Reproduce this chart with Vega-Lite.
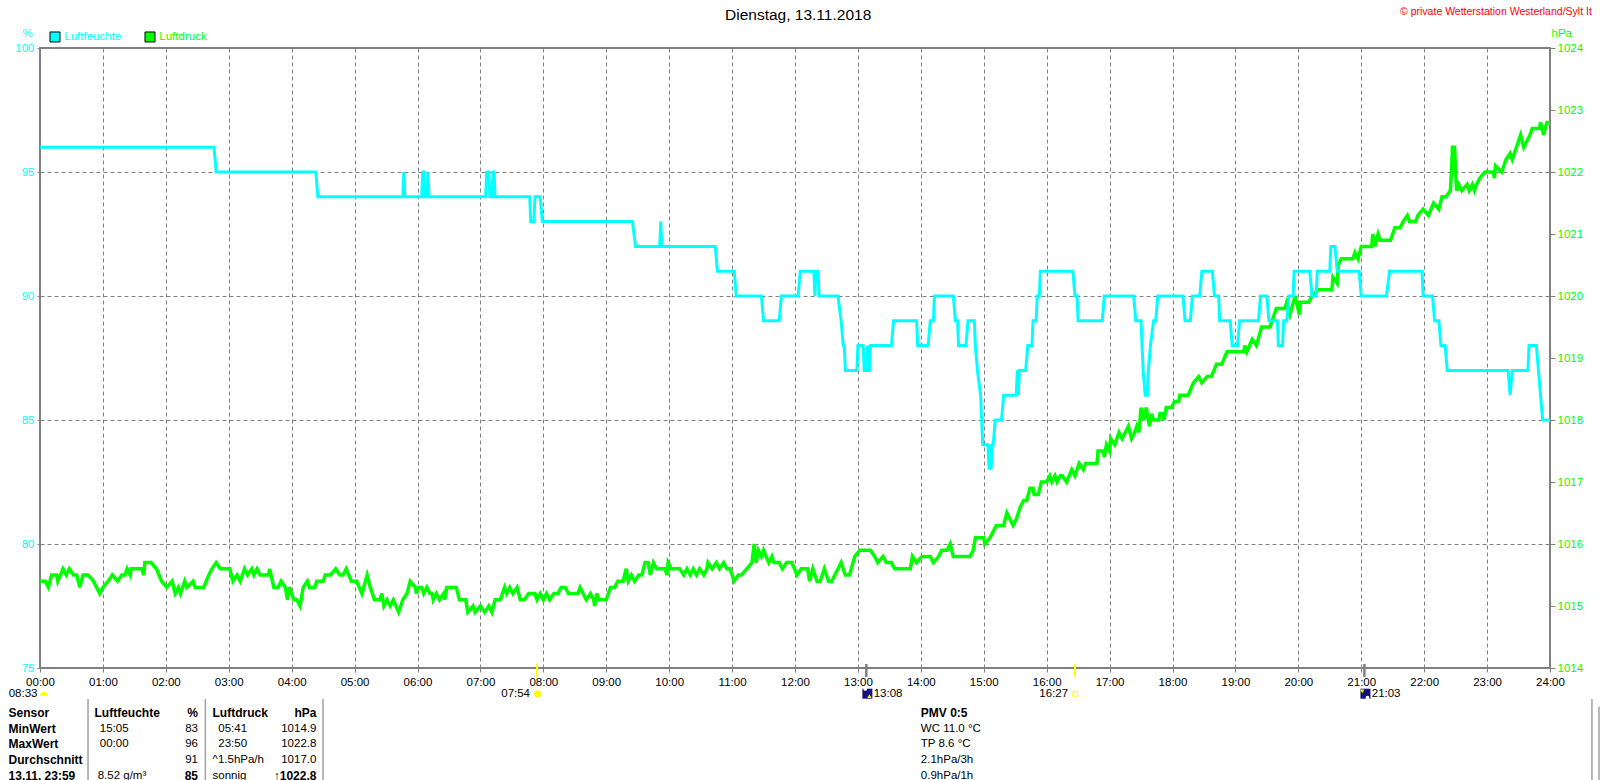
{
  "$schema": "https://vega.github.io/schema/vega-lite/v6.json",
  "background": "#FFFFFF",
  "autosize": {"type": "none"},
  "padding": {"left": 40, "top": 48, "right": 50, "bottom": 112},
  "width": 1510,
  "height": 620,
  "datasets": {
    "hum": [
      {"min":0,"v":96},{"min":166,"v":96},{"min":168,"v":95},{"min":263,"v":95},{"min":265,"v":94},{"min":346,"v":94},{"min":347,"v":95},{"min":348,"v":94},
      {"min":364,"v":94},{"min":365,"v":95},{"min":366,"v":95},{"min":367,"v":94},{"min":369,"v":94},{"min":370,"v":95},{"min":371,"v":94},
      {"min":425,"v":94},{"min":426,"v":95},{"min":428,"v":95},{"min":429,"v":94},{"min":431,"v":94},{"min":432,"v":95},{"min":433,"v":95},{"min":434,"v":94},
      {"min":467,"v":94},{"min":468,"v":93},{"min":471,"v":93},{"min":472,"v":94},{"min":477,"v":94},{"min":479,"v":93},{"min":565,"v":93},{"min":568,"v":92},
      {"min":591,"v":92},{"min":592,"v":93},{"min":593,"v":92},{"min":644,"v":92},{"min":646,"v":91},{"min":662,"v":91},{"min":664,"v":90},{"min":688,"v":90},{"min":690,"v":89},
      {"min":705,"v":89},{"min":707,"v":90},{"min":723,"v":90},{"min":725,"v":91},{"min":738,"v":91},{"min":739,"v":90},{"min":740,"v":91},{"min":742,"v":91},{"min":743,"v":90},
      {"min":761,"v":90},{"min":764,"v":89},{"min":766,"v":88},{"min":767,"v":88},{"min":768,"v":87},{"min":779,"v":87},{"min":780,"v":88},{"min":785,"v":88},{"min":786,"v":87},
      {"min":788,"v":87},{"min":789,"v":88},{"min":790,"v":87},{"min":791,"v":87},{"min":792,"v":88},{"min":812,"v":88},{"min":814,"v":89},{"min":836,"v":89},{"min":837,"v":88},
      {"min":847,"v":88},{"min":849,"v":89},{"min":852,"v":89},{"min":853,"v":90},{"min":871,"v":90},{"min":873,"v":89},{"min":875,"v":89},{"min":876,"v":88},{"min":883,"v":88},
      {"min":885,"v":89},{"min":891,"v":89},{"min":892,"v":88},{"min":894,"v":87},{"min":897,"v":86},{"min":898,"v":85},{"min":899,"v":84},{"min":904,"v":84},{"min":905,"v":83},
      {"min":906,"v":84},{"min":907,"v":83},{"min":908,"v":84},{"min":909,"v":84},{"min":911,"v":85},{"min":917,"v":85},{"min":919,"v":86},{"min":931,"v":86},{"min":932,"v":87},
      {"min":933,"v":86},{"min":934,"v":87},{"min":940,"v":87},{"min":942,"v":88},{"min":946,"v":88},{"min":947,"v":89},{"min":950,"v":89},{"min":951,"v":90},{"min":953,"v":90},
      {"min":954,"v":91},{"min":985,"v":91},{"min":987,"v":90},{"min":989,"v":90},{"min":990,"v":89},{"min":1013,"v":89},{"min":1015,"v":90},{"min":1043,"v":90},{"min":1045,"v":89},
      {"min":1050,"v":89},{"min":1051,"v":88},{"min":1052,"v":87},{"min":1054,"v":86},{"min":1056,"v":86},{"min":1057,"v":87},{"min":1059,"v":88},{"min":1062,"v":89},{"min":1064,"v":89},
      {"min":1066,"v":90},{"min":1090,"v":90},{"min":1092,"v":89},{"min":1097,"v":89},{"min":1099,"v":90},{"min":1106,"v":90},{"min":1108,"v":91},{"min":1118,"v":91},{"min":1120,"v":90},
      {"min":1124,"v":90},{"min":1125,"v":89},{"min":1135,"v":89},{"min":1137,"v":88},{"min":1142,"v":88},{"min":1144,"v":89},{"min":1162,"v":89},{"min":1164,"v":90},{"min":1170,"v":90},
      {"min":1172,"v":89},{"min":1180,"v":89},{"min":1181,"v":88},{"min":1185,"v":88},{"min":1186,"v":89},{"min":1189,"v":89},{"min":1191,"v":90},{"min":1195,"v":90},{"min":1196,"v":91},
      {"min":1211,"v":91},{"min":1213,"v":90},{"min":1217,"v":90},{"min":1218,"v":91},{"min":1230,"v":91},{"min":1231,"v":92},{"min":1235,"v":92},{"min":1237,"v":91},{"min":1258,"v":91},
      {"min":1260,"v":90},{"min":1284,"v":90},{"min":1287,"v":91},{"min":1318,"v":91},{"min":1319,"v":90},{"min":1328,"v":90},{"min":1330,"v":89},{"min":1334,"v":89},{"min":1336,"v":88},
      {"min":1340,"v":88},{"min":1342,"v":87},{"min":1400,"v":87},{"min":1402,"v":86},{"min":1404,"v":87},{"min":1419,"v":87},{"min":1420,"v":88},{"min":1427,"v":88},{"min":1429,"v":87},
      {"min":1431,"v":86},{"min":1433,"v":85},{"min":1440,"v":85}
    ],
    "pres": [
      {"min":0,"p":1015.4},{"min":5,"p":1015.4},{"min":8,"p":1015.3},{"min":11,"p":1015.5},{"min":16,"p":1015.5},{"min":17,"p":1015.4},{"min":22,"p":1015.6},{"min":25,"p":1015.5},{"min":28,"p":1015.6},
      {"min":32,"p":1015.5},{"min":35,"p":1015.5},{"min":38,"p":1015.3},{"min":41,"p":1015.5},{"min":46,"p":1015.5},{"min":51,"p":1015.4},{"min":57,"p":1015.2},{"min":60,"p":1015.3},{"min":65,"p":1015.4},
      {"min":69,"p":1015.5},{"min":74,"p":1015.4},{"min":78,"p":1015.5},{"min":81,"p":1015.5},{"min":83,"p":1015.6},{"min":86,"p":1015.5},{"min":87,"p":1015.6},{"min":97,"p":1015.6},{"min":99,"p":1015.5},
      {"min":100,"p":1015.7},{"min":106,"p":1015.7},{"min":111,"p":1015.6},{"min":116,"p":1015.4},{"min":121,"p":1015.3},{"min":126,"p":1015.4},{"min":129,"p":1015.2},{"min":132,"p":1015.3},{"min":134,"p":1015.2},
      {"min":138,"p":1015.4},{"min":140,"p":1015.3},{"min":146,"p":1015.4},{"min":148,"p":1015.3},{"min":156,"p":1015.3},{"min":161,"p":1015.5},{"min":164,"p":1015.6},{"min":168,"p":1015.7},{"min":172,"p":1015.6},
      {"min":181,"p":1015.6},{"min":184,"p":1015.4},{"min":188,"p":1015.5},{"min":191,"p":1015.4},{"min":195,"p":1015.6},{"min":198,"p":1015.5},{"min":202,"p":1015.6},{"min":204,"p":1015.5},{"min":207,"p":1015.6},
      {"min":210,"p":1015.5},{"min":218,"p":1015.5},{"min":219,"p":1015.6},{"min":223,"p":1015.3},{"min":227,"p":1015.3},{"min":230,"p":1015.4},{"min":234,"p":1015.3},{"min":236,"p":1015.1},{"min":238,"p":1015.3},
      {"min":242,"p":1015.1},{"min":245,"p":1015.1},{"min":248,"p":1015.0},{"min":251,"p":1015.3},{"min":255,"p":1015.4},{"min":257,"p":1015.3},{"min":262,"p":1015.3},{"min":264,"p":1015.4},{"min":270,"p":1015.4},
      {"min":272,"p":1015.5},{"min":277,"p":1015.5},{"min":282,"p":1015.6},{"min":286,"p":1015.5},{"min":289,"p":1015.5},{"min":292,"p":1015.6},{"min":297,"p":1015.4},{"min":302,"p":1015.4},{"min":307,"p":1015.2},
      {"min":312,"p":1015.5},{"min":315,"p":1015.3},{"min":319,"p":1015.1},{"min":324,"p":1015.1},{"min":326,"p":1015.2},{"min":328,"p":1015.0},{"min":331,"p":1015.1},{"min":334,"p":1015.0},{"min":337,"p":1015.1},
      {"min":342,"p":1014.9},{"min":346,"p":1015.1},{"min":350,"p":1015.2},{"min":353,"p":1015.4},{"min":358,"p":1015.3},{"min":359,"p":1015.2},{"min":361,"p":1015.3},{"min":364,"p":1015.3},{"min":366,"p":1015.2},
      {"min":369,"p":1015.3},{"min":372,"p":1015.2},{"min":374,"p":1015.2},{"min":375,"p":1015.1},{"min":378,"p":1015.2},{"min":381,"p":1015.1},{"min":385,"p":1015.2},{"min":386,"p":1015.1},{"min":388,"p":1015.3},
      {"min":397,"p":1015.3},{"min":400,"p":1015.1},{"min":406,"p":1015.1},{"min":408,"p":1014.9},{"min":413,"p":1015.0},{"min":415,"p":1014.9},{"min":420,"p":1015.0},{"min":424,"p":1014.9},{"min":428,"p":1015.0},
      {"min":431,"p":1014.9},{"min":434,"p":1015.1},{"min":439,"p":1015.1},{"min":443,"p":1015.3},{"min":445,"p":1015.2},{"min":448,"p":1015.3},{"min":451,"p":1015.2},{"min":455,"p":1015.3},{"min":458,"p":1015.1},
      {"min":462,"p":1015.1},{"min":466,"p":1015.2},{"min":472,"p":1015.2},{"min":474,"p":1015.1},{"min":477,"p":1015.2},{"min":480,"p":1015.1},{"min":483,"p":1015.2},{"min":486,"p":1015.1},{"min":490,"p":1015.2},
      {"min":494,"p":1015.2},{"min":497,"p":1015.3},{"min":501,"p":1015.3},{"min":504,"p":1015.2},{"min":513,"p":1015.2},{"min":515,"p":1015.3},{"min":518,"p":1015.2},{"min":521,"p":1015.1},{"min":525,"p":1015.2},
      {"min":528,"p":1015.1},{"min":529,"p":1015.0},{"min":531,"p":1015.2},{"min":533,"p":1015.1},{"min":540,"p":1015.1},{"min":544,"p":1015.3},{"min":548,"p":1015.3},{"min":551,"p":1015.4},{"min":556,"p":1015.4},
      {"min":559,"p":1015.6},{"min":561,"p":1015.4},{"min":564,"p":1015.5},{"min":567,"p":1015.4},{"min":571,"p":1015.5},{"min":574,"p":1015.5},{"min":577,"p":1015.7},{"min":580,"p":1015.7},{"min":582,"p":1015.5},
      {"min":585,"p":1015.7},{"min":588,"p":1015.6},{"min":596,"p":1015.6},{"min":598,"p":1015.5},{"min":599,"p":1015.7},{"min":602,"p":1015.6},{"min":610,"p":1015.6},{"min":614,"p":1015.5},{"min":617,"p":1015.6},
      {"min":620,"p":1015.5},{"min":623,"p":1015.6},{"min":626,"p":1015.5},{"min":629,"p":1015.6},{"min":633,"p":1015.5},{"min":636,"p":1015.6},{"min":637,"p":1015.7},{"min":641,"p":1015.6},{"min":645,"p":1015.7},
      {"min":648,"p":1015.6},{"min":652,"p":1015.7},{"min":655,"p":1015.6},{"min":658,"p":1015.6},{"min":662,"p":1015.4},{"min":666,"p":1015.5},{"min":669,"p":1015.5},{"min":674,"p":1015.6},{"min":679,"p":1015.7},
      {"min":681,"p":1016.0},{"min":683,"p":1015.7},{"min":685,"p":1015.9},{"min":688,"p":1015.8},{"min":690,"p":1015.9},{"min":695,"p":1015.7},{"min":698,"p":1015.8},{"min":700,"p":1015.7},{"min":705,"p":1015.7},
      {"min":708,"p":1015.6},{"min":712,"p":1015.7},{"min":717,"p":1015.7},{"min":722,"p":1015.5},{"min":726,"p":1015.6},{"min":732,"p":1015.6},{"min":734,"p":1015.4},{"min":737,"p":1015.6},{"min":741,"p":1015.4},
      {"min":744,"p":1015.4},{"min":748,"p":1015.6},{"min":752,"p":1015.4},{"min":755,"p":1015.4},{"min":758,"p":1015.5},{"min":761,"p":1015.6},{"min":764,"p":1015.7},{"min":768,"p":1015.5},{"min":772,"p":1015.5},
      {"min":777,"p":1015.8},{"min":782,"p":1015.9},{"min":792,"p":1015.9},{"min":796,"p":1015.8},{"min":799,"p":1015.7},{"min":804,"p":1015.8},{"min":807,"p":1015.7},{"min":812,"p":1015.7},{"min":815,"p":1015.6},
      {"min":830,"p":1015.6},{"min":832,"p":1015.8},{"min":836,"p":1015.7},{"min":841,"p":1015.8},{"min":849,"p":1015.8},{"min":852,"p":1015.7},{"min":857,"p":1015.8},{"min":860,"p":1015.9},{"min":865,"p":1015.9},
      {"min":868,"p":1016.0},{"min":871,"p":1015.8},{"min":887,"p":1015.8},{"min":890,"p":1015.9},{"min":892,"p":1016.1},{"min":900,"p":1016.1},{"min":901,"p":1016.0},{"min":906,"p":1016.1},{"min":909,"p":1016.2},
      {"min":912,"p":1016.3},{"min":919,"p":1016.3},{"min":922,"p":1016.5},{"min":925,"p":1016.4},{"min":928,"p":1016.3},{"min":931,"p":1016.4},{"min":935,"p":1016.6},{"min":938,"p":1016.7},{"min":941,"p":1016.7},
      {"min":944,"p":1016.9},{"min":947,"p":1016.9},{"min":948,"p":1016.8},{"min":952,"p":1016.8},{"min":955,"p":1017.0},{"min":960,"p":1017.0},{"min":963,"p":1017.1},{"min":965,"p":1017.0},{"min":968,"p":1017.1},
      {"min":970,"p":1017.0},{"min":973,"p":1017.1},{"min":975,"p":1017.1},{"min":979,"p":1017.0},{"min":984,"p":1017.2},{"min":987,"p":1017.1},{"min":991,"p":1017.3},{"min":995,"p":1017.2},{"min":997,"p":1017.3},
      {"min":1008,"p":1017.3},{"min":1009,"p":1017.5},{"min":1014,"p":1017.5},{"min":1015,"p":1017.4},{"min":1017,"p":1017.6},{"min":1020,"p":1017.5},{"min":1021,"p":1017.7},{"min":1025,"p":1017.6},{"min":1027,"p":1017.7},
      {"min":1029,"p":1017.8},{"min":1032,"p":1017.7},{"min":1038,"p":1017.9},{"min":1041,"p":1017.7},{"min":1044,"p":1017.8},{"min":1046,"p":1017.9},{"min":1048,"p":1017.8},{"min":1050,"p":1018.2},{"min":1053,"p":1018.0},
      {"min":1055,"p":1018.2},{"min":1058,"p":1017.9},{"min":1060,"p":1018.1},{"min":1062,"p":1018.0},{"min":1067,"p":1018.0},{"min":1068,"p":1018.1},{"min":1071,"p":1018.1},{"min":1072,"p":1018.0},{"min":1074,"p":1018.2},
      {"min":1079,"p":1018.2},{"min":1082,"p":1018.3},{"min":1086,"p":1018.3},{"min":1087,"p":1018.4},{"min":1095,"p":1018.4},{"min":1100,"p":1018.6},{"min":1105,"p":1018.7},{"min":1108,"p":1018.6},{"min":1113,"p":1018.7},
      {"min":1117,"p":1018.7},{"min":1122,"p":1018.9},{"min":1127,"p":1018.9},{"min":1132,"p":1019.1},{"min":1148,"p":1019.1},{"min":1149,"p":1019.2},{"min":1151,"p":1019.1},{"min":1156,"p":1019.3},{"min":1160,"p":1019.2},
      {"min":1165,"p":1019.5},{"min":1173,"p":1019.5},{"min":1179,"p":1019.8},{"min":1187,"p":1019.8},{"min":1189,"p":1019.9},{"min":1192,"p":1019.7},{"min":1197,"p":1020.0},{"min":1201,"p":1019.7},{"min":1202,"p":1019.9},
      {"min":1210,"p":1019.9},{"min":1213,"p":1020.0},{"min":1219,"p":1020.1},{"min":1232,"p":1020.1},{"min":1233,"p":1020.3},{"min":1237,"p":1020.2},{"min":1238,"p":1020.5},{"min":1241,"p":1020.6},{"min":1252,"p":1020.6},
      {"min":1254,"p":1020.7},{"min":1257,"p":1020.6},{"min":1260,"p":1020.8},{"min":1270,"p":1020.8},{"min":1271,"p":1021.0},{"min":1273,"p":1020.8},{"min":1276,"p":1021.0},{"min":1278,"p":1020.9},{"min":1288,"p":1020.9},
      {"min":1292,"p":1021.1},{"min":1297,"p":1021.1},{"min":1300,"p":1021.2},{"min":1304,"p":1021.3},{"min":1306,"p":1021.2},{"min":1312,"p":1021.2},{"min":1314,"p":1021.3},{"min":1319,"p":1021.4},{"min":1324,"p":1021.3},
      {"min":1329,"p":1021.5},{"min":1334,"p":1021.4},{"min":1337,"p":1021.6},{"min":1341,"p":1021.6},{"min":1345,"p":1021.7},{"min":1346,"p":1022.0},{"min":1347,"p":1022.4},{"min":1349,"p":1022.4},{"min":1350,"p":1022.0},
      {"min":1351,"p":1021.7},{"min":1353,"p":1021.8},{"min":1356,"p":1021.7},{"min":1361,"p":1021.8},{"min":1363,"p":1021.7},{"min":1366,"p":1021.8},{"min":1368,"p":1021.7},{"min":1370,"p":1021.8},{"min":1373,"p":1021.9},
      {"min":1378,"p":1022.0},{"min":1386,"p":1022.0},{"min":1387,"p":1021.9},{"min":1388,"p":1022.1},{"min":1394,"p":1022.0},{"min":1398,"p":1022.2},{"min":1402,"p":1022.3},{"min":1404,"p":1022.2},{"min":1408,"p":1022.4},
      {"min":1412,"p":1022.6},{"min":1415,"p":1022.4},{"min":1421,"p":1022.6},{"min":1423,"p":1022.7},{"min":1430,"p":1022.7},{"min":1431,"p":1022.8},{"min":1434,"p":1022.6},{"min":1437,"p":1022.8},{"min":1440,"p":1022.8}
    ],
    "notes": [
      {"label":"Dienstag, 13.11.2018","min":723,"row":-44.1,"kind":"head","tone":"ink"},
      {"label":"Luftfeuchte","min":23.2,"row":-42.7,"kind":"left","tone":"hum"},
      {"label":"Luftdruck","min":113.8,"row":-42.7,"kind":"left","tone":"pres"},
      {"label":"© private Wetterstation Westerland/Sylt It","min":1297,"row":-44.3,"kind":"credit","tone":"credit"},
      {"label":"08:33","min":-2.4,"row":-1.2,"kind":"right","tone":"ink"},
      {"label":"07:54","min":467.3,"row":-1.2,"kind":"right","tone":"ink"},
      {"label":"13:08","min":795,"row":-1.2,"kind":"left","tone":"ink"},
      {"label":"16:27","min":980.4,"row":-1.2,"kind":"right","tone":"ink"},
      {"label":"21:03","min":1270,"row":-1.2,"kind":"left","tone":"ink"},
      {"label":"Sensor","min":-30,"row":0,"kind":"boldLeft","tone":"ink"},
      {"label":"MinWert","min":-30,"row":1,"kind":"boldLeft","tone":"ink"},
      {"label":"MaxWert","min":-30,"row":2,"kind":"boldLeft","tone":"ink"},
      {"label":"Durchschnitt","min":-30,"row":3,"kind":"boldLeft","tone":"ink"},
      {"label":"13.11. 23:59","min":-30,"row":4,"kind":"boldLeft","tone":"ink"},
      {"label":"Luftfeuchte","min":52,"row":0,"kind":"boldLeft","tone":"ink"},
      {"label":"%","min":150.7,"row":0,"kind":"boldRight","tone":"ink"},
      {"label":"15:05","min":57,"row":1,"kind":"left","tone":"ink"},
      {"label":"83","min":150.7,"row":1,"kind":"right","tone":"ink"},
      {"label":"00:00","min":57,"row":2,"kind":"left","tone":"ink"},
      {"label":"96","min":150.7,"row":2,"kind":"right","tone":"ink"},
      {"label":"91","min":150.7,"row":3,"kind":"right","tone":"ink"},
      {"label":"8.52 g/m³","min":55,"row":4,"kind":"left","tone":"ink"},
      {"label":"85","min":150.7,"row":4,"kind":"boldRight","tone":"ink"},
      {"label":"Luftdruck","min":164.5,"row":0,"kind":"boldLeft","tone":"ink"},
      {"label":"hPa","min":263.6,"row":0,"kind":"boldRight","tone":"ink"},
      {"label":"05:41","min":170,"row":1,"kind":"left","tone":"ink"},
      {"label":"1014.9","min":263.6,"row":1,"kind":"right","tone":"ink"},
      {"label":"23:50","min":170,"row":2,"kind":"left","tone":"ink"},
      {"label":"1022.8","min":263.6,"row":2,"kind":"right","tone":"ink"},
      {"label":"^1.5hPa/h","min":164.5,"row":3,"kind":"left","tone":"ink"},
      {"label":"1017.0","min":263.6,"row":3,"kind":"right","tone":"ink"},
      {"label":"sonnig","min":164.5,"row":4,"kind":"left","tone":"ink"},
      {"label":"↑1022.8","min":263.6,"row":4,"kind":"boldRight","tone":"ink"},
      {"label":"PMV 0:5","min":840,"row":0,"kind":"boldLeft","tone":"ink"},
      {"label":"WC 11.0 °C","min":840,"row":1,"kind":"left","tone":"ink"},
      {"label":"TP 8.6 °C","min":840,"row":2,"kind":"left","tone":"ink"},
      {"label":"2.1hPa/3h","min":840,"row":3,"kind":"left","tone":"ink"},
      {"label":"0.9hPa/1h","min":840,"row":4,"kind":"left","tone":"ink"}
    ],
    "lines": [
      {"min":45.8,"row":-0.87,"row2":5.5,"kind":"table"},
      {"min":157.7,"row":-0.87,"row2":5.5,"kind":"table"},
      {"min":269.9,"row":-0.87,"row2":5.5,"kind":"table"},
      {"min":1480,"row":-0.87,"row2":5.5,"kind":"table"},
      {"min":1486.7,"row":-0.38,"row2":5.5,"kind":"table"},
      {"min":474,"row":-3.08,"row2":-2.26,"kind":"sun"},
      {"min":987,"row":-3.08,"row2":-2.26,"kind":"sun"},
      {"min":788,"row":-3.08,"row2":-2.26,"kind":"moon"},
      {"min":1263,"row":-3.08,"row2":-2.26,"kind":"moon"}
    ],
    "icons": [
      {"min":14.3,"row":-42.7,"icon":"keyHum"},
      {"min":104.9,"row":-42.7,"icon":"keyPres"},
      {"min":3.8,"row":-1.2,"icon":"dawn"},
      {"min":474.5,"row":-1.2,"icon":"sun"},
      {"min":987.3,"row":-1.2,"icon":"sunset"},
      {"min":789,"row":-1.2,"icon":"night"},
      {"min":1264,"row":-1.2,"icon":"night"},
      {"min":787,"row":-1.5,"icon":"cloud"},
      {"min":1266,"row":-0.95,"icon":"cloud"},
      {"min":791,"row":-1.05,"icon":"rise"},
      {"min":1261,"row":-1.35,"icon":"set"}
    ]
  },
  "encoding": {
    "x": {
      "field": "min",
      "type": "quantitative",
      "title": null,
      "scale": {"domain": [0, 1440], "nice": false, "zero": false},
      "axis": {
        "orient": "bottom",
        "values": [0,60,120,180,240,300,360,420,480,540,600,660,720,780,840,900,960,1020,1080,1140,1200,1260,1320,1380,1440],
        "labelExpr": "(datum.value < 600 ? '0' : '') + (datum.value / 60) + ':00'",
        "labelOverlap": false,
        "labelFlush": false,
        "labelColor": "#000000",
        "labelFontSize": 11.5,
        "labelPadding": 4,
        "domain": false,
        "tickColor": "#808080",
        "tickSize": 4,
        "grid": true,
        "gridColor": "#808080",
        "gridDash": [4, 3],
        "gridOpacity": 1
      }
    }
  },
  "layer": [
    {
      "data": {"name": "pres"},
      "mark": {"type": "line", "color": "#00FF00", "strokeWidth": 3.5, "strokeJoin": "miter"},
      "encoding": {
        "y": {
          "field": "p",
          "type": "quantitative",
          "scale": {"domain": [1014, 1024], "nice": false, "zero": false},
          "axis": {
            "orient": "right",
            "title": "hPa",
            "titleAngle": 0,
            "titleAlign": "left",
            "titleBaseline": "middle",
            "titleColor": "#00FF00",
            "titleFontSize": 11.5,
            "titleFontWeight": "normal",
            "titleX": 1,
            "titleY": -15,
            "values": [1014,1015,1016,1017,1018,1019,1020,1021,1022,1023,1024],
            "format": "d",
            "labelColor": "#00FF00",
            "labelFontSize": 11.5,
            "labelPadding": 2,
            "domain": false,
            "tickColor": "#808080",
            "tickSize": 5,
            "grid": false
          }
        }
      }
    },
    {
      "data": {"name": "hum"},
      "mark": {"type": "line", "color": "#00FFFF", "strokeWidth": 3, "strokeJoin": "miter"},
      "encoding": {
        "y": {
          "field": "v",
          "type": "quantitative",
          "scale": {"domain": [75, 100], "nice": false, "zero": false},
          "axis": {
            "orient": "left",
            "title": "%",
            "titleAngle": 0,
            "titleAlign": "center",
            "titleBaseline": "middle",
            "titleColor": "#00FFFF",
            "titleFontSize": 11.5,
            "titleFontWeight": "normal",
            "titleX": -13,
            "titleY": -15,
            "values": [75,80,85,90,95,100],
            "labelColor": "#00FFFF",
            "labelFontSize": 11.5,
            "labelPadding": 3,
            "domain": false,
            "tickColor": "#808080",
            "tickSize": 3,
            "grid": true,
            "gridColor": "#808080",
            "gridDash": [4, 3],
            "gridOpacity": 1
          }
        }
      }
    },
    {
      "encoding": {
        "y": {
          "field": "row",
          "type": "quantitative",
          "title": null,
          "scale": {"domain": [0, 4], "range": [664.7, 728], "nice": false, "zero": false},
          "axis": null
        }
      },
      "layer": [
        {
          "data": {"name": "lines"},
          "transform": [{"filter": "datum.kind == 'table'"}],
          "mark": {"type": "rule", "color": "#A0A0A0", "strokeWidth": 1.5},
          "encoding": {"y2": {"field": "row2"}}
        },
        {
          "data": {"name": "lines"},
          "transform": [{"filter": "datum.kind == 'sun'"}],
          "mark": {"type": "rule", "color": "#FFFF00", "strokeWidth": 2},
          "encoding": {"y2": {"field": "row2"}}
        },
        {
          "data": {"name": "lines"},
          "transform": [{"filter": "datum.kind == 'moon'"}],
          "mark": {"type": "rule", "color": "#808080", "strokeWidth": 2.5},
          "encoding": {"y2": {"field": "row2"}}
        },
        {
          "data": {"name": "icons"},
          "transform": [{"filter": "datum.icon == 'keyHum'"}],
          "mark": {"type": "point", "shape": "square", "size": 100, "filled": true, "fill": "#00FFFF", "stroke": "#000000", "strokeWidth": 1, "opacity": 1}
        },
        {
          "data": {"name": "icons"},
          "transform": [{"filter": "datum.icon == 'keyPres'"}],
          "mark": {"type": "point", "shape": "square", "size": 100, "filled": true, "fill": "#00FF00", "stroke": "#000000", "strokeWidth": 1, "opacity": 1}
        },
        {
          "data": {"name": "icons"},
          "transform": [{"filter": "datum.icon == 'dawn'"}],
          "mark": {"type": "point", "shape": "M-1,0.5A1,1 0 0 1 1,0.5Z", "size": 60, "filled": true, "fill": "#FFFF00", "opacity": 1}
        },
        {
          "data": {"name": "icons"},
          "transform": [{"filter": "datum.icon == 'sun'"}],
          "mark": {"type": "point", "shape": "circle", "size": 50, "filled": true, "fill": "#FFFF00", "opacity": 1}
        },
        {
          "data": {"name": "icons"},
          "transform": [{"filter": "datum.icon == 'sunset'"}],
          "mark": {"type": "point", "shape": "square", "size": 25, "filled": false, "stroke": "#FFFF00", "strokeWidth": 1, "opacity": 1}
        },
        {
          "data": {"name": "icons"},
          "transform": [{"filter": "datum.icon == 'night'"}],
          "mark": {"type": "point", "shape": "square", "size": 100, "filled": true, "fill": "#10107F", "opacity": 1}
        },
        {
          "data": {"name": "icons"},
          "transform": [{"filter": "datum.icon == 'cloud'"}],
          "mark": {"type": "point", "shape": "circle", "size": 14, "filled": true, "fill": "#FFFFFF", "opacity": 1}
        },
        {
          "data": {"name": "icons"},
          "transform": [{"filter": "datum.icon == 'rise'"}],
          "mark": {"type": "point", "shape": "triangle-up", "size": 18, "filled": true, "fill": "#FFFF00", "opacity": 1}
        },
        {
          "data": {"name": "icons"},
          "transform": [{"filter": "datum.icon == 'set'"}],
          "mark": {"type": "point", "shape": "triangle-down", "size": 18, "filled": true, "fill": "#FFFF00", "opacity": 1}
        },
        {
          "data": {"name": "notes"},
          "transform": [{"filter": "datum.kind == 'head'"}],
          "mark": {"type": "text", "align": "center", "baseline": "middle", "fontSize": 15.5, "color": "#000000"},
          "encoding": {"text": {"field": "label"}}
        },
        {
          "data": {"name": "notes"},
          "transform": [{"filter": "datum.kind == 'credit'"}],
          "mark": {"type": "text", "align": "left", "baseline": "middle", "fontSize": 10.5, "color": "#FF0000"},
          "encoding": {"text": {"field": "label"}}
        },
        {
          "data": {"name": "notes"},
          "transform": [{"filter": "datum.kind == 'left'"}],
          "mark": {"type": "text", "align": "left", "baseline": "middle", "fontSize": 11.5},
          "encoding": {
            "text": {"field": "label"},
            "color": {"field": "tone", "scale": {"domain": ["ink", "hum", "pres"], "range": ["#000000", "#00FFFF", "#00FF00"]}, "legend": null}
          }
        },
        {
          "data": {"name": "notes"},
          "transform": [{"filter": "datum.kind == 'right'"}],
          "mark": {"type": "text", "align": "right", "baseline": "middle", "fontSize": 11.5, "color": "#000000"},
          "encoding": {"text": {"field": "label"}}
        },
        {
          "data": {"name": "notes"},
          "transform": [{"filter": "datum.kind == 'boldLeft'"}],
          "mark": {"type": "text", "align": "left", "baseline": "middle", "fontSize": 12, "fontWeight": "bold", "color": "#000000"},
          "encoding": {"text": {"field": "label"}}
        },
        {
          "data": {"name": "notes"},
          "transform": [{"filter": "datum.kind == 'boldRight'"}],
          "mark": {"type": "text", "align": "right", "baseline": "middle", "fontSize": 12, "fontWeight": "bold", "color": "#000000"},
          "encoding": {"text": {"field": "label"}}
        }
      ]
    }
  ],
  "resolve": {"scale": {"y": "independent"}, "axis": {"y": "independent"}},
  "config": {
    "font": "Liberation Sans",
    "view": {"stroke": "#808080", "strokeWidth": 2}
  }
}
